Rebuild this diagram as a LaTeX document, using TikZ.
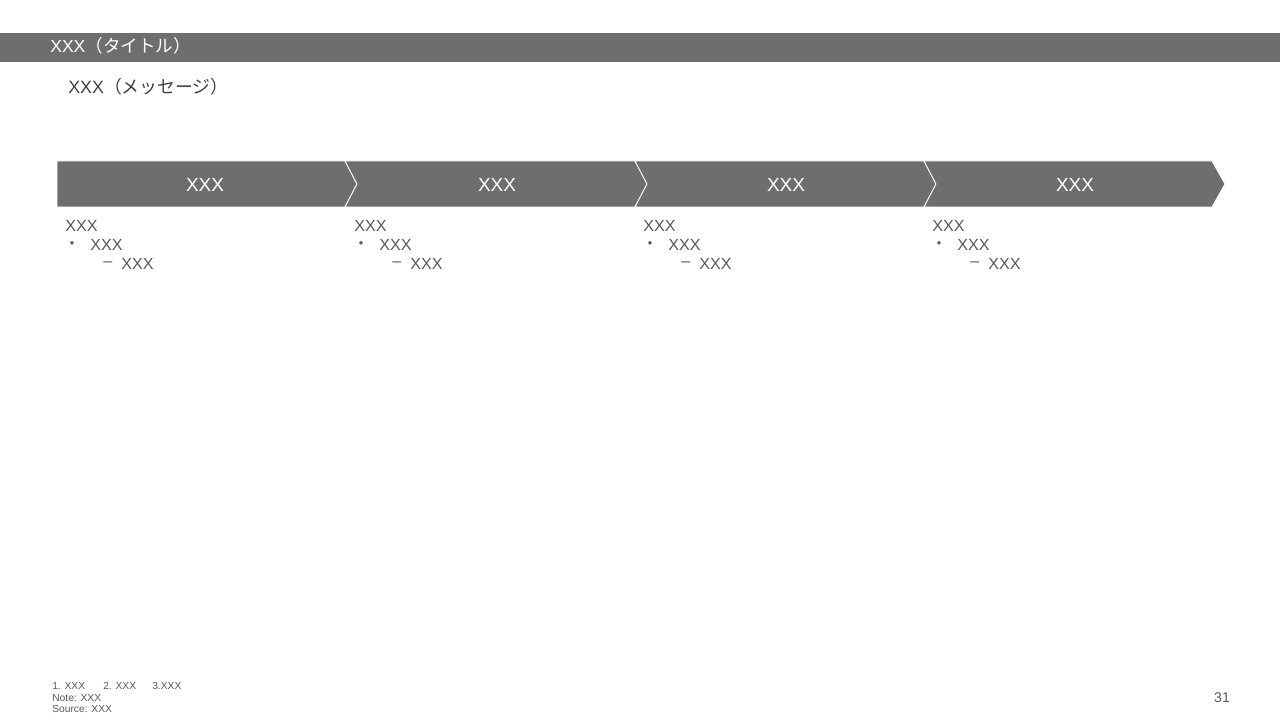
\documentclass[tikz,border=0pt]{standalone}
\usepackage{fontspec}
\setmainfont{Liberation Sans}
\newfontfamily\cjk{Noto Sans CJK JP}
\definecolor{bargray}{HTML}{6E6E6E}
\definecolor{txtgray}{HTML}{595959}
\definecolor{msggray}{HTML}{404040}
\tikzset{
  stage/.style={fill=bargray,draw=white,line width=0.6pt},
  stagelabel/.style={text=white,font=\fontsize{13.5}{15}\selectfont},
  body/.style={anchor=west,inner sep=0pt,text=txtgray,font=\fontsize{11.5}{13}\selectfont},
  foot/.style={anchor=west,inner sep=0pt,text=txtgray,font=\fontsize{7.3}{8}\selectfont}
}
\begin{document}
\begin{tikzpicture}[x=0.025cm,y=-0.025cm]
\useasboundingbox (0,0) rectangle (1280,720);
% title bar
\fill[bargray] (0,33) rectangle (1280,62);
\node[anchor=west,inner sep=0pt,text=white,font=\fontsize{12.5}{14}\selectfont] (title) at (50,46) {XXX{\cjk（タイトル）}};
\node[anchor=west,inner sep=0pt,text=msggray,font=\fontsize{12.7}{15}\selectfont] (msg) at (68,87) {XXX{\cjk（メッセージ）}};
% stages
\draw[stage] (57,161) -- (345,161) -- (357,184) -- (345,207) -- (57,207) -- cycle;
\draw[stage] (345,161) -- (635,161) -- (647,184) -- (635,207) -- (345,207) -- (357,184) -- cycle;
\draw[stage] (635,161) -- (924,161) -- (936,184) -- (924,207) -- (635,207) -- (647,184) -- cycle;
\draw[stage] (924,161) -- (1212,161) -- (1225,184) -- (1212,207) -- (924,207) -- (936,184) -- cycle;
\node[stagelabel] (s1) at (205,185) {XXX};
\node[stagelabel] (s2) at (497,185) {XXX};
\node[stagelabel] (s3) at (786,185) {XXX};
\node[stagelabel] (s4) at (1075,185) {XXX};
% texts under stages
\foreach \i/\x in {1/65,2/354,3/643,4/932}{
  \node[body] (h\i) at (\x,226) {XXX};
  \node[body] (b\i) at (\x+25,245) {XXX};
  \node[text=txtgray,font=\fontsize{9}{10}\selectfont] (dot\i) at (\x+7,245) {\textbullet};
  \node[body] (d\i) at (\x+56,264) {XXX};
  \node[body] (dash\i) at (\x+38,264) {--};
}
% footnotes
\node[foot] (f1) at (52,686) {1. XXX};
\node[foot] (f1b) at (103,686) {2. XXX};
\node[foot] (f1c) at (152,686) {3.XXX};
\node[foot] (f2) at (52,698) {Note: XXX};
\node[foot] (f3) at (52,709) {Source: XXX};
\node[text=txtgray,font=\fontsize{10}{12}\selectfont] (page) at (1222,698) {31};
\end{tikzpicture}
\end{document}
